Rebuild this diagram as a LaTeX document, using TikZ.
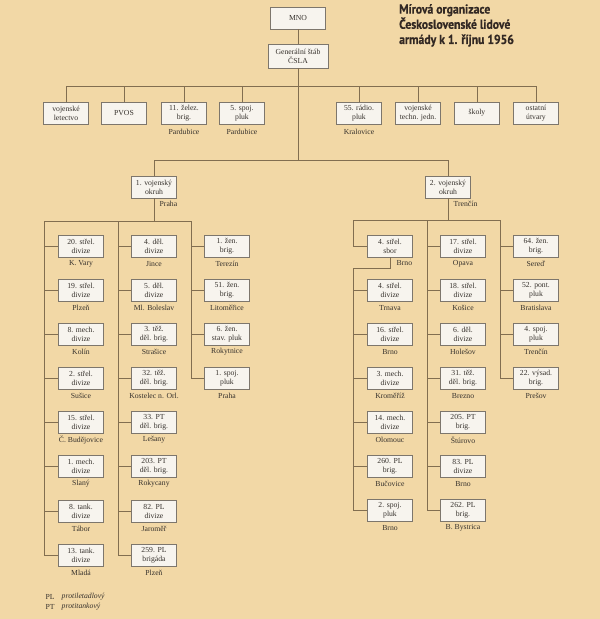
\documentclass[tikz,border=0pt]{standalone}
\usepackage{fontspec}
\setmainfont{Liberation Serif}
\newfontfamily\titlefam[FakeStretch=0.9,FakeBold=0.6]{PT Sans}
\newfontfamily\ubfam{Liberation Serif}
\newcommand\ubfont{\ubfam\fontsize{7.7}{9}\selectfont}
\usetikzlibrary{shadows}
\definecolor{bg}{RGB}{242,216,166}
\definecolor{boxfill}{RGB}{247,244,238}
\definecolor{boxborder}{RGB}{125,118,108}
\definecolor{linecol}{RGB}{130,110,80}
\definecolor{textcol}{RGB}{55,50,45}
\definecolor{titlecol}{RGB}{50,40,35}
\tikzset{
  unit/.style={draw=boxborder, line width=0.8pt, fill=boxfill, minimum width=45pt, minimum height=22pt,
    inner sep=0.5pt, align=center, font=\ubfont, text=textcol,
    drop shadow={shadow xshift=0.7pt, shadow yshift=-0.7pt, fill=black, opacity=0.25}},
  place/.style={font=\ubfont, text=textcol, inner sep=0.5pt},
  conn/.style={draw=linecol, line width=0.8pt},
}
\newcommand\ub[5]{\node[unit] (#1) at (#2,#3) {#4};
  \node[place] (#1l) at (#2,#3+18) {#5};}
\begin{document}
\begin{tikzpicture}[x=1pt,y=-1pt]
\fill[bg] (0,0) rectangle (600,619);
\useasboundingbox (0,0) rectangle (600,619);

% title
\node[anchor=north west, align=left, inner sep=0, text=titlecol,
  font={\titlefam\bfseries\fontsize{13}{15.2}\selectfont}] (title) at (399,4)
  {Mírová organizace\\Československé lidové\\armády k 1. říjnu 1956};

% top
\node[unit, minimum width=55pt] (mno) at (298,18) {MNO};
\node[unit, minimum width=60pt, minimum height=24pt] (gs) at (298,56) {Generální štáb\\ČSLA};
\draw[conn] (mno) -- (gs);

\node[unit] (t1) at (66,113) {vojenské\\letectvo};
\node[unit] (t2) at (124,113) {PVOS};
\node[unit] (t3) at (184,113) {11. želez.\\brig.};
\node[unit] (t4) at (242,113) {5. spoj.\\pluk};
\node[unit] (t5) at (359,113) {55. rádio.\\pluk};
\node[unit] (t6) at (418,113) {vojenské\\techn. jedn.};
\node[unit] (t7) at (477,113) {školy};
\node[unit] (t8) at (536,113) {ostatní\\útvary};
\node[place] (t3l) at (184,132) {Pardubice};
\node[place] (t4l) at (242,132) {Pardubice};
\node[place] (t5l) at (359,132) {Kralovice};

\coordinate (tb) at (298,86);
\foreach \n in {t1,t2,t3,t4,t5,t6,t7,t8} {\draw[conn] (tb) -| (\n);}
\coordinate (db) at (298,160);
\draw[conn] (gs) -- (db);

% districts
\node[unit] (d1) at (154,187) {1. vojenský\\okruh};
\node[unit] (d2) at (448,187) {2. vojenský\\okruh};
\draw[conn] (db) -| (d1);
\draw[conn] (db) -| (d2);
\node[place, anchor=west] (d1l) at (159,204) {Praha};
\node[place, anchor=west] (d2l) at (453,204) {Trenčín};

% district 1
\coordinate (p1) at (154,221);
\coordinate (p1a) at (44,221);
\coordinate (p1b) at (118,221);
\coordinate (p1c) at (191,221);
\draw[conn] (d1) -- (p1);
\draw[conn] (p1a) -- (p1c);

\ub{a1}{81}{246}{20. střel.\\divize}{K. Vary}
\ub{a2}{81}{290}{19. střel.\\divize}{Plzeň}
\ub{a3}{81}{334}{8. mech.\\divize}{Kolín}
\ub{a4}{81}{378}{2. střel.\\divize}{Sušice}
\ub{a5}{81}{422}{15. střel.\\divize}{Č. Budějovice}
\ub{a6}{81}{466}{1. mech.\\divize}{Slaný}
\ub{a7}{81}{511}{8. tank.\\divize}{Tábor}
\ub{a8}{81}{555}{13. tank.\\divize}{Mladá}

\ub{b1}{154}{246}{4. děl.\\divize}{Jince}
\ub{b2}{154}{290}{5. děl.\\divize}{Ml. Boleslav}
\ub{b3}{154}{334}{3. těž.\\děl. brig.}{Strašice}
\ub{b4}{154}{378}{32. těž.\\děl. brig.}{Kostelec n. Orl.}
\ub{b5}{154}{422}{33. PT\\děl. brig.}{Lešany}
\ub{b6}{154}{466}{203. PT\\děl. brig.}{Rokycany}
\ub{b7}{154}{511}{82. PL\\divize}{Jaroměř}
\ub{b8}{154}{555}{259. PL\\brigáda}{Plzeň}

\ub{c1}{227}{246}{1. žen.\\brig.}{Terezín}
\ub{c2}{227}{290}{51. žen.\\brig.}{Litoměřice}
\ub{c3}{227}{334}{6. žen.\\stav. pluk}{Rokytnice}
\ub{c4}{227}{378}{1. spoj.\\pluk}{Praha}

\foreach \n in {a1,a2,a3,a4,a5,a6,a7,a8} {\draw[conn] (p1a) |- (\n);}
\foreach \n in {b1,b2,b3,b4,b5,b6,b7,b8} {\draw[conn] (p1b) |- (\n);}
\foreach \n in {c1,c2,c3,c4} {\draw[conn] (p1c) |- (\n);}

% district 2
\coordinate (q1) at (448,220);
\coordinate (q1a) at (353,220);
\coordinate (q1b) at (427,220);
\coordinate (q1c) at (500,220);
\draw[conn] (d2) -- (q1);
\draw[conn] (q1a) -- (q1c);

\node[unit] (e1) at (390,246) {4. střel.\\sbor};
\node[place, anchor=west] (e1l) at (396,263) {Brno};
\coordinate (sb) at (390,268);
\coordinate (sbl) at (353,268);
\draw[conn] (q1a) |- (e1);
\draw[conn] (e1) -- (sb) -- (sbl);

\ub{e2}{390}{290}{4. střel.\\divize}{Trnava}
\ub{e3}{390}{334}{16. střel.\\divize}{Brno}
\ub{e4}{390}{378}{3. mech.\\divize}{Kroměříž}
\ub{e5}{390}{422}{14. mech.\\divize}{Olomouc}
\ub{e6}{390}{466}{260. PL\\brig.}{Bučovice}
\ub{e7}{390}{510}{2. spoj.\\pluk}{Brno}

\ub{f1}{463}{246}{17. střel.\\divize}{Opava}
\ub{f2}{463}{290}{18. střel.\\divize}{Košice}
\ub{f3}{463}{334}{6. děl.\\divize}{Holešov}
\ub{f4}{463}{378}{31. těž.\\děl. brig.}{Brezno}
\ub{f5}{463}{422}{205. PT\\brig.}{Štúrovo}
\ub{f6}{463}{466}{83. PL\\divize}{Brno}
\ub{f7}{463}{510}{262. PL\\brig.}{B. Bystrica}

\ub{g1}{536}{246}{64. žen.\\brig.}{Sereď}
\ub{g2}{536}{290}{52. pont.\\pluk}{Bratislava}
\ub{g3}{536}{334}{4. spoj.\\pluk}{Trenčín}
\ub{g4}{536}{378}{22. výsad.\\brig.}{Prešov}

\foreach \n in {e2,e3,e4,e5,e6,e7} {\draw[conn] (sbl) |- (\n);}
\foreach \n in {f1,f2,f3,f4,f5,f6,f7} {\draw[conn] (q1b) |- (\n);}
\foreach \n in {g1,g2,g3,g4} {\draw[conn] (q1c) |- (\n);}

% legend
\node[place, anchor=west] (k1) at (45,597) {PL};
\node[place, anchor=west] (k1t) at (61,597) {\textit{protiletadlový}};
\node[place, anchor=west] (k2) at (45,607) {PT};
\node[place, anchor=west] (k2t) at (61,607) {\textit{protitankový}};
\end{tikzpicture}
\end{document}
